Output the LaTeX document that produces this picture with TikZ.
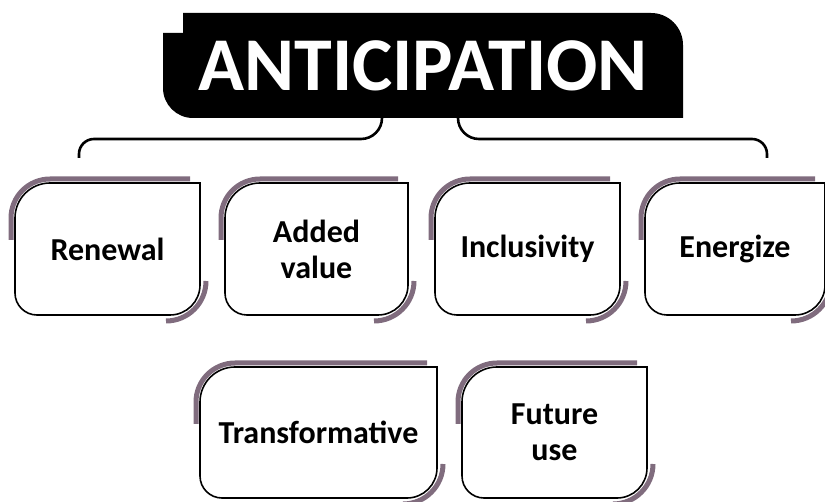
\documentclass[tikz,border=0pt]{standalone}
\usepackage{fontspec}
\setmainfont{Carlito}
\usetikzlibrary{backgrounds}
\definecolor{mauve}{RGB}{128,108,126}
\tikzset{
	bloc/.style={inner sep=0pt, outer sep=0pt, minimum height=132pt, align=center,
		font=\fontsize{32}{36}\selectfont\bfseries},
	titre/.style={inner sep=0pt, outer sep=0pt, minimum width=520pt, minimum height=105pt,
		text=white, font=\fontsize{76}{80}\selectfont\bfseries},
	ombre/.style={draw=mauve, line width=5pt},
	cadre/.style={draw=black, fill=white, line width=1.6pt},
	accolade/.style={draw=black, line width=2.6pt}
}
% contour of one block
\newcommand{\dessinbloc}[1]{%
	\draw[ombre] ([xshift=-4pt,yshift=-57pt]#1.north west) -- ([xshift=-4pt,yshift=-35pt]#1.north west)
		arc[start angle=180, end angle=90, radius=39pt] -- ([xshift=-10pt,yshift=4pt]#1.north east);
	\draw[ombre] ([xshift=6pt,yshift=34pt]#1.south east) arc[start angle=0, end angle=-90, radius=40pt];
	\draw[cadre] (#1.north east) -- ([yshift=30pt]#1.south east)
		arc[start angle=0, end angle=-90, radius=30pt] -- ([xshift=22pt]#1.south west)
		arc[start angle=270, end angle=180, radius=22pt] -- ([yshift=-35pt]#1.north west)
		arc[start angle=180, end angle=90, radius=35pt] -- cycle;
}
\begin{document}
\begin{tikzpicture}[x=1pt, y=1pt]
	\useasboundingbox (0,0) rectangle (825,501);
	% title
	\node[titre] (title) at (423,435.5) {ANTICIPATION};
	% first row
	\node[bloc, minimum width=185pt] (renewal) at (107.5,252) {Renewal};
	\node[bloc, minimum width=183pt] (added) at (316.5,252) {Added\\value};
	\node[bloc, minimum width=185pt] (inclusivity) at (527.5,252) {Inclusivity};
	\node[bloc, minimum width=180pt] (energize) at (735,252) {Energize};
	% second row
	\node[bloc, minimum width=237pt, minimum height=131pt] (transformative) at (318.5,68.5) {Transformative};
	\node[bloc, minimum width=185pt, minimum height=131pt] (future) at (554.5,68.5) {Future\\use};
	\begin{scope}[on background layer]
		\fill ([yshift=-20pt]title.north west) -- ([xshift=20pt,yshift=-20pt]title.north west)
			-- ([xshift=20pt]title.north west) -- ([xshift=-32pt]title.north east)
			arc[start angle=90, end angle=0, radius=32pt] -- (title.south east)
			-- ([xshift=30pt]title.south west) arc[start angle=270, end angle=180, radius=30pt] -- cycle;
		\foreach \b in {renewal, added, inclusivity, energize, transformative, future}{
			\dessinbloc{\b}
		}
	\end{scope}
	% the brace
	\coordinate (bl) at (79,343);
	\coordinate (br) at (767,343);
	\draw[accolade] (bl) -- ++(0,4pt) arc[start angle=180, end angle=90, radius=15pt]
		-- ([xshift=-62pt,yshift=-21pt]title.south) arc[start angle=270, end angle=360, radius=21pt];
	\draw[accolade] ([xshift=35pt]title.south) arc[start angle=180, end angle=270, radius=21pt]
		-- ([xshift=-15pt,yshift=19pt]br) arc[start angle=90, end angle=0, radius=15pt] -- (br);
\end{tikzpicture}
\end{document}
